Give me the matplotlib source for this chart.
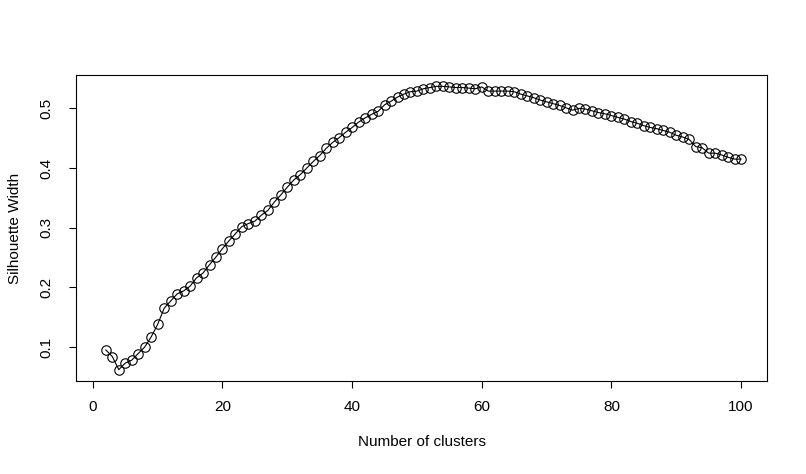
import numpy as np
import matplotlib as mpl
import matplotlib.pyplot as plt

mpl.rcParams['font.family'] = ['Liberation Sans', 'DejaVu Sans']
mpl.rcParams['font.size'] = 11

# number of clusters vs average silhouette width
clusters = list(range(2, 101))
sil_width = [
    0.095, 0.084, 0.062, 0.073, 0.078, 0.089, 0.100, 0.117, 0.138,          # 2-10
    0.165, 0.177, 0.189, 0.194, 0.202, 0.216, 0.224, 0.238, 0.251, 0.265,   # 11-20
    0.278, 0.290, 0.302, 0.307, 0.311, 0.321, 0.329, 0.343, 0.355, 0.368,   # 21-30
    0.380, 0.389, 0.400, 0.411, 0.421, 0.433, 0.443, 0.451, 0.460, 0.468,   # 31-40
    0.477, 0.484, 0.490, 0.495, 0.506, 0.512, 0.519, 0.524, 0.528, 0.529,   # 41-50
    0.533, 0.535, 0.537, 0.537, 0.536, 0.535, 0.535, 0.534, 0.533, 0.536,   # 51-60
    0.529, 0.529, 0.529, 0.529, 0.528, 0.524, 0.521, 0.518, 0.514, 0.511,   # 61-70
    0.508, 0.505, 0.501, 0.497, 0.500, 0.499, 0.496, 0.493, 0.491, 0.488,   # 71-80
    0.485, 0.482, 0.478, 0.475, 0.471, 0.468, 0.466, 0.463, 0.460, 0.455,   # 81-90
    0.452, 0.448, 0.436, 0.434, 0.425, 0.425, 0.422, 0.418, 0.415, 0.415,   # 91-100
]

fig = plt.figure(figsize=(8.06, 4.74), dpi=100)
ax = fig.add_axes([76/806, 1-381/474, (767-76)/806, (381-75)/474])

ax.plot(clusters, sil_width, color='black', lw=0.8,
        marker='o', ms=6.8, mfc='none', mec='black', mew=0.8)

ax.set_xlim(-2.6, 104.0)
yr = max(sil_width) - min(sil_width)
ax.set_ylim(min(sil_width) - 0.04*yr, max(sil_width) + 0.04*yr)

ax.set_xticks([0, 20, 40, 60, 80, 100])
ax.set_yticks([0.1, 0.2, 0.3, 0.4, 0.5])
ax.set_yticklabels(['0.1', '0.2', '0.3', '0.4', '0.5'], rotation=90, va='center')
ax.tick_params(direction='out', length=5, width=0.8, pad=9)
ax.tick_params(axis='y', pad=11)
for s in ax.spines.values():
    s.set_linewidth(0.8)

ax.set_xlabel('Number of clusters', labelpad=15)
ax.set_ylabel('Silhouette Width', labelpad=13)

fig.savefig('out.png', dpi=100)
